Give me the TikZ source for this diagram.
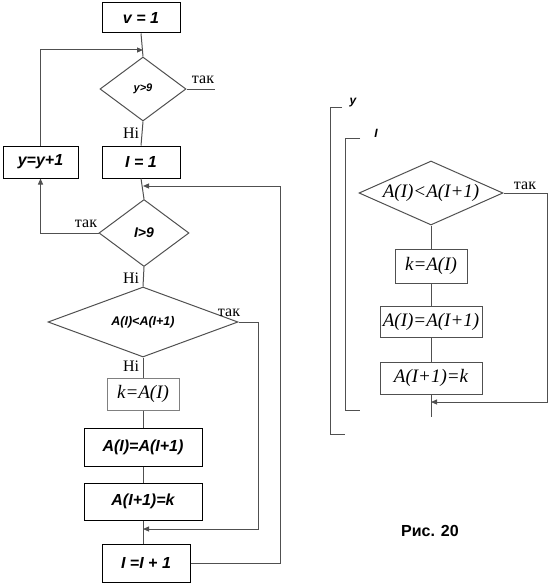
\documentclass[tikz,border=0pt]{standalone}
\usepackage{fontspec}
\setmainfont{Liberation Serif}
\setsansfont{Liberation Sans}
\usetikzlibrary{arrows.meta,shapes.geometric}
\definecolor{ln}{RGB}{80,80,80}
\tikzset{
  box/.style={draw=black,line width=1pt,rectangle,inner sep=0pt,font=\sffamily\bfseries\itshape\fontsize{16}{18}\selectfont},
  rbox/.style={draw=ln,line width=1pt,rectangle,inner sep=0pt,font=\itshape\fontsize{19}{21}\selectfont},
  dia/.style={draw=ln,line width=1pt,diamond,inner sep=0pt},
  conn/.style={draw=ln,line width=1pt},
  arr/.style={conn,-{Triangle[length=6pt,width=5pt]}},
  lbl/.style={font=\fontsize{16}{18}\selectfont,inner sep=0pt},
}
\begin{document}
\begin{tikzpicture}[x=1pt,y=-1pt]
\useasboundingbox (0,0) rectangle (553,586);
% left flowchart
\node[box,minimum width=78pt,minimum height=30pt] (v1) at (141,18) {v = 1};
\node[dia,minimum width=86pt,minimum height=64pt,font=\sffamily\bfseries\itshape\fontsize{11}{12}\selectfont] (d1) at (143,89) {y>9};
\coordinate (d1end) at (215,89);
\node[lbl] (t1) at (203,80) {так};
\node[lbl] (n1) at (131,133) {Ні};
\node[box,minimum width=78pt,minimum height=32pt] (i1) at (141,162) {I = 1};
\node[box,minimum width=75pt,minimum height=32pt] (yy) at (40.5,162) {y=y+1};
\node[dia,minimum width=90pt,minimum height=67pt,font=\sffamily\bfseries\itshape\fontsize{14}{16}\selectfont] (d2) at (144,233) {I>9};
\node[lbl] (t2) at (86,224) {так};
\node[lbl] (n2) at (131,278) {Ні};
\node[dia,minimum width=190pt,minimum height=70pt] (d3) at (143,322) {};
\node[inner sep=0pt,font=\sffamily\bfseries\itshape\fontsize{12.5}{14}\selectfont] (d3t) at (d3.center) {A(I)<A(I+1)};
\node[lbl] (t3) at (229,313) {так};
\node[lbl] (n3) at (131,366) {Ні};
\node[box,draw=gray,minimum width=72pt,minimum height=32pt,font=\itshape\fontsize{19}{21}\selectfont] (k1) at (143,394) {k=A(I)};
\node[box,minimum width=118pt,minimum height=38pt] (b2) at (143,447) {A(I)=A(I+1)};
\node[box,minimum width=118pt,minimum height=37pt] (b3) at (143,501.5) {A(I+1)=k};
\node[box,minimum width=88pt,minimum height=38pt] (b4) at (146,563) {I =I + 1};
\coordinate (m1) at (143,50);
\coordinate (m2) at (143,186);
\coordinate (m3) at (143,529);
\coordinate (yyt) at (yy.north |- m1);
\coordinate (yyb) at (yy.south |- d2.west);
\coordinate (r1) at (280,563);
\coordinate (r2) at (280,186);
\coordinate (r3) at (258,322);
\coordinate (r4) at (258,529);
\draw[conn] (v1.south) -- (d1.north);
\draw[conn] (d1.east) -- (d1end);
\draw[conn] (d1.south) -- (i1.north);
\draw[arr] (yy.north) -- (yyt) -- (m1);
\draw[conn] (i1.south) -- (d2.north);
\draw[arr] (b4.east) -- (r1) -- (r2) -- (m2);
\draw[arr] (d2.west) -- (yyb) -- (yy.south);
\draw[conn] (d2.south) -- (d3.north);
\draw[conn] (d3.south) -- (k1.north);
\draw[conn] (k1.south) -- (b2.north);
\draw[conn] (b2.south) -- (b3.north);
\draw[conn] (b3.south) -- (b4.north -| m3);
\draw[arr] (d3.east) -- (r3) -- (r4) -- (m3);
% right flowchart
\node[dia,minimum width=144pt,minimum height=64pt] (rd) at (431,193) {};
\node[inner sep=0pt,font=\itshape\fontsize{19}{21}\selectfont] (rdt) at (rd.center) {A(I)<A(I+1)};
\node[lbl] (rt) at (525,186) {так};
\node[rbox,minimum width=72pt,minimum height=34pt] (rk) at (431,266) {k=A(I)};
\node[rbox,minimum width=102pt,minimum height=31pt] (rb2) at (431,321.5) {A(I)=A(I+1)};
\node[rbox,minimum width=102pt,minimum height=32pt] (rb3) at (431,378) {A(I+1)=k};
\coordinate (rend) at (431,417);
\coordinate (rm) at (431,402);
\coordinate (rr1) at (547,193);
\coordinate (rr2) at (547,402);
\draw[conn] (rd.south) -- (rk.north);
\draw[conn] (rk.south) -- (rb2.north);
\draw[conn] (rb2.south) -- (rb3.north);
\draw[conn] (rb3.south) -- (rend);
\draw[arr] (rd.east) -- (rr1) -- (rr2) -- (rm);
% brackets
\coordinate (o1) at (342,107);
\coordinate (o2) at (330,107);
\coordinate (o3) at (330,434);
\coordinate (o4) at (345,434);
\coordinate (i1a) at (360,138);
\coordinate (i1b) at (345,138);
\coordinate (i1c) at (345,410);
\coordinate (i1d) at (360,410);
\draw[conn] (o1) -- (o2) -- (o3) -- (o4);
\draw[conn] (i1a) -- (i1b) -- (i1c) -- (i1d);
\node[font=\sffamily\bfseries\itshape\fontsize{12}{14}\selectfont,inner sep=0pt] (ylab) at (353,103) {y};
\node[font=\sffamily\bfseries\itshape\fontsize{12}{14}\selectfont,inner sep=0pt] (ilab) at (376,133) {I};
\node[font=\sffamily\bfseries\fontsize{16}{18}\selectfont,inner sep=0pt] (cap) at (430,531) {Рис. 20};
\end{tikzpicture}
\end{document}
